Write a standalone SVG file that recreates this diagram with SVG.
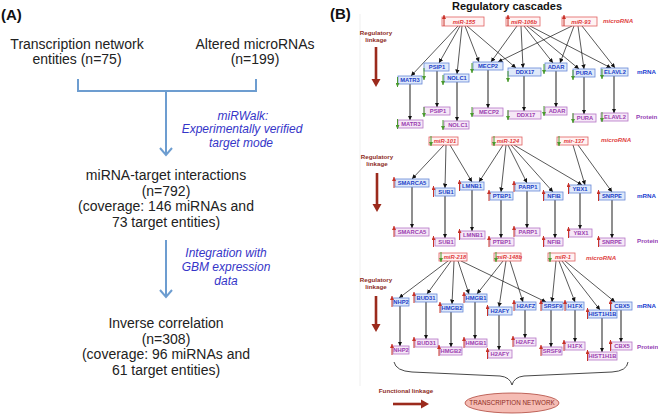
<svg xmlns="http://www.w3.org/2000/svg" width="658" height="414" viewBox="0 0 658 414">
<style>
text{font-family:"Liberation Sans",Arial,sans-serif}
.big{font-size:14px;fill:#222}
.hdr{font-size:15px;font-weight:bold;fill:#111}
.ttl{font-size:11px;font-weight:bold;fill:#111}
.it{font-size:12px;font-style:italic;fill:#3535c8}
.flow{stroke:#6d9dd0;stroke-width:2;fill:none}
.mir rect{fill:#fff3f3;stroke:#e06060;stroke-width:0.8}
.mir text{font-size:5.8px;font-weight:bold;font-style:italic;fill:#e03838;text-anchor:middle}
.rna rect{fill:#dfe9fa;stroke:#6688d8;stroke-width:0.8}
.rna text{font-size:5.8px;font-weight:bold;fill:#1c3fc8;text-anchor:middle}
.pro rect{fill:#f6e8f7;stroke:#b574c6;stroke-width:0.8}
.pro text{font-size:5.8px;font-weight:bold;fill:#9a3db0;text-anchor:middle}
.up{stroke:#c83228;stroke-width:1;marker-end:url(#hr)}
.dn{stroke:#4a9a2e;stroke-width:1;marker-end:url(#hg)}
.e{stroke:#111;stroke-width:0.7;marker-end:url(#ah);fill:none}
.v{stroke:#333;stroke-width:1.1;marker-end:url(#ah);fill:none}
.lab{font-size:6.2px;font-weight:bold}
.lmir{fill:#e04040;font-style:italic}
.lrna{fill:#2040d0}
.lpro{fill:#9440b4}
.lnk{font-size:6.2px;font-weight:bold;fill:#8e2c1e;text-anchor:middle}
.big-ar{stroke:#9b2a1c;stroke-width:2.6}
</style>
<defs>
<marker id="ah" viewBox="0 0 10 10" refX="10" refY="5" markerWidth="4.5" markerHeight="4.5" markerUnits="userSpaceOnUse" orient="auto"><path d="M0,0L10,5L0,10z" fill="#111"/></marker>
<marker id="hr" viewBox="0 0 10 10" refX="10" refY="5" markerWidth="4" markerHeight="4" markerUnits="userSpaceOnUse" orient="auto"><path d="M0,0L10,5L0,10z" fill="#c83228"/></marker>
<marker id="hg" viewBox="0 0 10 10" refX="10" refY="5" markerWidth="4" markerHeight="4" markerUnits="userSpaceOnUse" orient="auto"><path d="M0,0L10,5L0,10z" fill="#4a9a2e"/></marker>
</defs>

<!-- Panel A -->
<g id="panelA">
<text class="hdr" x="1" y="20">(A)</text>
<g id="tn"><text class="big" x="77" y="49" text-anchor="middle">Transcription network</text><text class="big" x="77" y="64" text-anchor="middle">entities (n=75)</text></g>
<g id="am"><text class="big" x="255" y="49" text-anchor="middle">Altered microRNAs</text><text class="big" x="255" y="64" text-anchor="middle">(n=199)</text></g>
<g id="mti"><text class="big" x="166" y="180" text-anchor="middle">miRNA-target interactions</text><text class="big" x="166" y="196" text-anchor="middle">(n=792)</text><text class="big" x="166" y="211" text-anchor="middle">(coverage: 146 miRNAs and</text><text class="big" x="166" y="227" text-anchor="middle">73 target entities)</text></g>
<g id="ic"><text class="big" x="166" y="328" text-anchor="middle">Inverse correlation</text><text class="big" x="166" y="344" text-anchor="middle">(n=308)</text><text class="big" x="166" y="359" text-anchor="middle">(coverage: 96 miRNAs and</text><text class="big" x="166" y="375" text-anchor="middle">61 target entities)</text></g>
<g id="flowA">
<path class="flow" d="M78,79V91H256V79M166,91V154"/>
<path class="flow" d="M160,148L166,155L172,148"/>
<path class="flow" d="M166,240V296"/>
<path class="flow" d="M160,290L166,297L172,290"/>
</g>
<text class="it" x="243" y="120" text-anchor="middle">miRWalk:</text>
<text class="it" x="242" y="133" text-anchor="middle">Experimentally verified</text>
<text class="it" x="241" y="147" text-anchor="middle">target mode</text>
<text class="it" x="226" y="257" text-anchor="middle">Integration with</text>
<text class="it" x="226" y="271" text-anchor="middle">GBM expression</text>
<text class="it" x="226" y="285" text-anchor="middle">data</text>
</g>

<!-- Panel B -->
<text class="hdr" x="330" y="19">(B)</text>
<text class="ttl" x="507" y="10" text-anchor="middle">Regulatory cascades</text>
<line x1="360" y1="14" x2="360" y2="386" stroke="#efefef" stroke-width="1"/>

<g id="legend">
<text class="lnk" x="376" y="35">Regulatory</text><text class="lnk" x="376" y="42">linkage</text>
<line class="big-ar" x1="376" y1="47" x2="376" y2="80"/><path d="M371.5,79H380.5L376,87z" fill="#9b2a1c"/>
<text class="lnk" x="377" y="159">Regulatory</text><text class="lnk" x="377" y="166">linkage</text>
<line class="big-ar" x1="377" y1="173" x2="377" y2="205"/><path d="M372.5,204H381.5L377,212z" fill="#9b2a1c"/>
<text class="lnk" x="376" y="282">Regulatory</text><text class="lnk" x="376" y="289">linkage</text>
<line class="big-ar" x1="376" y1="296" x2="376" y2="325"/><path d="M371.5,324H380.5L376,332z" fill="#9b2a1c"/>
<text class="lnk" x="406" y="393">Functional linkage</text>
<line class="big-ar" x1="393" y1="404" x2="422" y2="404"/><path d="M421,399.5V408.5L429,404z" fill="#9b2a1c"/>
<text class="lab lmir" x="603" y="23">microRNA</text><text class="lab lrna" x="637" y="74">mRNA</text><text class="lab lpro" x="636" y="119">Protein</text>
<text class="lab lmir" x="601" y="142">microRNA</text><text class="lab lrna" x="637" y="198">mRNA</text><text class="lab lpro" x="637" y="243">Protein</text>
<text class="lab lmir" x="586" y="260">microRNA</text><text class="lab lrna" x="637" y="308">mRNA</text><text class="lab lpro" x="637" y="349">Protein</text>
</g>

<g id="connectors">
<!-- cascade 1 -->
<line class="e" x1="458" y1="26" x2="411" y2="76"/>
<line class="e" x1="460" y1="26" x2="439" y2="63"/>
<line class="e" x1="462" y1="26" x2="457" y2="74"/>
<line class="e" x1="465" y1="26" x2="479" y2="62"/>
<line class="e" x1="467" y1="26" x2="516" y2="68"/>
<line class="e" x1="517" y1="26" x2="491" y2="62"/>
<line class="e" x1="521" y1="26" x2="523" y2="68"/>
<line class="e" x1="524" y1="26" x2="553" y2="63"/>
<line class="e" x1="527" y1="26" x2="579" y2="69"/>
<line class="e" x1="530" y1="26" x2="611" y2="68"/>
<line class="e" x1="572" y1="26" x2="498" y2="62"/>
<line class="e" x1="574" y1="26" x2="560" y2="63"/>
<line class="e" x1="578" y1="26" x2="584" y2="69"/>
<line class="e" x1="582" y1="26" x2="615" y2="68"/>
<line class="v" x1="410" y1="84" x2="410" y2="120"/>
<line class="v" x1="437" y1="71" x2="437" y2="107"/>
<line class="v" x1="457" y1="82" x2="457" y2="121"/>
<line class="v" x1="488" y1="70" x2="488" y2="108"/>
<line class="v" x1="524" y1="76" x2="524" y2="111"/>
<line class="v" x1="556" y1="71" x2="556" y2="107"/>
<line class="v" x1="584" y1="77" x2="584" y2="114"/>
<line class="v" x1="614" y1="76" x2="614" y2="113"/>
<!-- cascade 2 -->
<line class="e" x1="444" y1="145" x2="412" y2="179"/>
<line class="e" x1="446" y1="145" x2="445" y2="188"/>
<line class="e" x1="450" y1="145" x2="472" y2="182"/>
<line class="e" x1="503" y1="145" x2="479" y2="182"/>
<line class="e" x1="506" y1="145" x2="501" y2="192"/>
<line class="e" x1="508" y1="145" x2="527" y2="183"/>
<line class="e" x1="511" y1="145" x2="553" y2="192"/>
<line class="e" x1="514" y1="145" x2="582" y2="185"/>
<line class="e" x1="573" y1="145" x2="585" y2="185"/>
<line class="e" x1="578" y1="145" x2="612" y2="192"/>
<line class="v" x1="412" y1="187" x2="412" y2="228"/>
<line class="v" x1="445" y1="196" x2="445" y2="238"/>
<line class="v" x1="472" y1="190" x2="472" y2="231"/>
<line class="v" x1="501" y1="200" x2="501" y2="238"/>
<line class="v" x1="527" y1="191" x2="527" y2="228"/>
<line class="v" x1="555" y1="200" x2="555" y2="238"/>
<line class="v" x1="580" y1="193" x2="580" y2="229"/>
<line class="v" x1="612" y1="200" x2="612" y2="238"/>
<!-- cascade 3 -->
<line class="e" x1="448" y1="261" x2="399" y2="298"/>
<line class="e" x1="451" y1="261" x2="427" y2="294"/>
<line class="e" x1="454" y1="261" x2="452" y2="304"/>
<line class="e" x1="458" y1="261" x2="469" y2="294"/>
<line class="e" x1="461" y1="261" x2="546" y2="302"/>
<line class="e" x1="503" y1="261" x2="477" y2="294"/>
<line class="e" x1="506" y1="261" x2="499" y2="307"/>
<line class="e" x1="510" y1="261" x2="523" y2="302"/>
<line class="e" x1="556" y1="261" x2="552" y2="302"/>
<line class="e" x1="559" y1="261" x2="575" y2="302"/>
<line class="e" x1="562" y1="261" x2="600" y2="310"/>
<line class="e" x1="565" y1="261" x2="615" y2="302"/>
<line class="v" x1="400" y1="306" x2="400" y2="346"/>
<line class="v" x1="426" y1="302" x2="426" y2="339"/>
<line class="v" x1="451" y1="312" x2="451" y2="347"/>
<line class="v" x1="475" y1="302" x2="475" y2="339"/>
<line class="v" x1="499" y1="315" x2="499" y2="350"/>
<line class="v" x1="525" y1="310" x2="525" y2="338"/>
<line class="v" x1="551" y1="310" x2="551" y2="347"/>
<line class="v" x1="575" y1="310" x2="575" y2="342"/>
<line class="v" x1="602" y1="318" x2="602" y2="352"/>
<line class="v" x1="621" y1="310" x2="621" y2="342"/>
<!-- brace -->
<path d="M394,362Q396,371 412,372L500,376Q510,377 512,385Q514,377 524,376L612,372Q627,371 628,362" fill="none" stroke="#333" stroke-width="0.9"/>
</g>

<!-- cascade 1 nodes -->
<g id="m155" class="mir"><rect x="442" y="17" width="42" height="9"/><text x="464" y="24">miR-155</text><line class="up" x1="444" y1="26" x2="444" y2="15"/></g>
<g id="m106b" class="mir"><rect x="506" y="17" width="34" height="9"/><text x="524" y="24">miR-106b</text><line class="up" x1="508" y1="26" x2="508" y2="15"/></g>
<g id="m93" class="mir"><rect x="562" y="17" width="35" height="9"/><text x="581" y="24">miR-93</text><line class="up" x1="564" y1="26" x2="564" y2="15"/></g>

<g id="r_MATR3" class="rna"><rect x="398" y="76" width="24" height="8"/><text x="410" y="82.2">MATR3</text><line class="dn" x1="397.5" y1="77" x2="397.5" y2="87"/></g>
<g id="r_PSIP1" class="rna"><rect x="424" y="63" width="25" height="8"/><text x="437" y="69.2">PSIP1</text><line class="dn" x1="424" y1="68" x2="424" y2="80"/></g>
<g id="r_NOLC1" class="rna"><rect x="444" y="74" width="25" height="8"/><text x="457" y="80.2">NOLC1</text><line class="dn" x1="443" y1="75" x2="443" y2="85"/></g>
<g id="r_MECP2" class="rna"><rect x="473" y="62" width="30" height="8"/><text x="488" y="68.2">MECP2</text><line class="dn" x1="472" y1="63" x2="472" y2="73"/></g>
<g id="r_DDX17" class="rna"><rect x="508" y="68" width="33" height="8"/><text x="525" y="74.2">DDX17</text><line class="dn" x1="508" y1="71" x2="508" y2="82"/></g>
<g id="r_ADAR" class="rna"><rect x="545" y="63" width="22" height="8"/><text x="556" y="69.2">ADAR</text><line class="dn" x1="544" y1="64" x2="544" y2="74"/></g>
<g id="r_PURA" class="rna"><rect x="573" y="69" width="22" height="8"/><text x="584" y="75.2">PURA</text><line class="dn" x1="573" y1="70" x2="573" y2="80"/></g>
<g id="r_ELAVL2" class="rna"><rect x="601" y="68" width="27" height="8"/><text x="615" y="74.2">ELAVL2</text><line class="dn" x1="602" y1="69" x2="602" y2="79"/></g>

<g id="p_MATR3" class="pro"><rect x="398" y="120" width="25" height="8"/><text x="411" y="126.2">MATR3</text><line class="dn" x1="397.5" y1="119" x2="397.5" y2="129"/></g>
<g id="p_PSIP1" class="pro"><rect x="424" y="107" width="26" height="8"/><text x="438" y="113.2">PSIP1</text><line class="dn" x1="424" y1="107" x2="424" y2="117"/></g>
<g id="p_NOLC1" class="pro"><rect x="444" y="121" width="25" height="8"/><text x="458" y="127.2">NOLC1</text><line class="dn" x1="443" y1="120" x2="443" y2="130"/></g>
<g id="p_MECP2" class="pro"><rect x="473" y="108" width="30" height="8"/><text x="489" y="114.2">MECP2</text><line class="dn" x1="472" y1="107" x2="472" y2="117"/></g>
<g id="p_DDX17" class="pro"><rect x="508" y="111" width="33" height="8"/><text x="526" y="117.2">DDX17</text><line class="dn" x1="508" y1="110" x2="508" y2="120"/></g>
<g id="p_ADAR" class="pro"><rect x="545" y="107" width="22" height="8"/><text x="557" y="113.2">ADAR</text><line class="dn" x1="544" y1="106" x2="544" y2="116"/></g>
<g id="p_PURA" class="pro"><rect x="573" y="114" width="23" height="8"/><text x="585" y="120.2">PURA</text><line class="dn" x1="573" y1="113" x2="573" y2="123"/></g>
<g id="p_ELAVL2" class="pro"><rect x="601" y="113" width="27" height="8"/><text x="615" y="119.2">ELAVL2</text><line class="dn" x1="602" y1="112" x2="602" y2="122"/></g>

<!-- cascade 2 nodes -->
<g id="m101" class="mir"><rect x="429" y="137" width="29" height="8"/><text x="445" y="143.2">miR-101</text><line class="dn" x1="431" y1="136" x2="431" y2="146"/></g>
<g id="m124" class="mir"><rect x="492" y="137" width="30" height="8"/><text x="508" y="143.2">miR-124</text><line class="dn" x1="494" y1="136" x2="494" y2="146"/></g>
<g id="m137" class="mir"><rect x="557" y="137" width="31" height="8"/><text x="574" y="143.2">mir-137</text><line class="dn" x1="559" y1="136" x2="559" y2="146"/></g>

<g id="r_SMARCA5" class="rna"><rect x="395" y="179" width="34" height="8"/><text x="412" y="185.2">SMARCA5</text><line class="up" x1="394" y1="188" x2="394" y2="177"/></g>
<g id="r_SUB1" class="rna"><rect x="435" y="188" width="20" height="8"/><text x="446" y="194.2">SUB1</text><line class="up" x1="433.5" y1="197" x2="433.5" y2="186"/></g>
<g id="r_LMNB1" class="rna"><rect x="460" y="182" width="24" height="8"/><text x="472" y="188.2">LMNB1</text><line class="up" x1="459.5" y1="191" x2="459.5" y2="180"/></g>
<g id="r_PTBP1" class="rna"><rect x="490" y="192" width="23" height="8"/><text x="502" y="198.2">PTBP1</text><line class="up" x1="489" y1="201" x2="489" y2="190"/></g>
<g id="r_PARP1" class="rna"><rect x="515" y="183" width="25" height="8"/><text x="528" y="189.2">PARP1</text><line class="up" x1="514" y1="192" x2="514" y2="181"/></g>
<g id="r_NFIB" class="rna"><rect x="544" y="192" width="19" height="8"/><text x="554" y="198.2">NFIB</text><line class="up" x1="543.5" y1="201" x2="543.5" y2="190"/></g>
<g id="r_YBX1" class="rna"><rect x="569" y="185" width="22" height="8"/><text x="580" y="191.2">YBX1</text><line class="up" x1="568.5" y1="194" x2="568.5" y2="183"/></g>
<g id="r_SNRPE" class="rna"><rect x="599" y="192" width="26" height="8"/><text x="612" y="198.2">SNRPE</text><line class="up" x1="598.5" y1="201" x2="598.5" y2="190"/></g>

<g id="p_SMARCA5" class="pro"><rect x="395" y="228" width="34" height="8"/><text x="412" y="234.2">SMARCA5</text><line class="up" x1="394" y1="237" x2="394" y2="226"/></g>
<g id="p_SUB1" class="pro"><rect x="435" y="238" width="20" height="8"/><text x="446" y="244.2">SUB1</text><line class="up" x1="433.5" y1="247" x2="433.5" y2="236"/></g>
<g id="p_LMNB1" class="pro"><rect x="460" y="231" width="25" height="8"/><text x="473" y="237.2">LMNB1</text><line class="up" x1="459.5" y1="240" x2="459.5" y2="229"/></g>
<g id="p_PTBP1" class="pro"><rect x="490" y="238" width="24" height="8"/><text x="502" y="244.2">PTBP1</text><line class="up" x1="489" y1="247" x2="489" y2="236"/></g>
<g id="p_PARP1" class="pro"><rect x="515" y="228" width="25" height="8"/><text x="528" y="234.2">PARP1</text><line class="up" x1="514" y1="237" x2="514" y2="226"/></g>
<g id="p_NFIB" class="pro"><rect x="544" y="238" width="19" height="8"/><text x="554" y="244.2">NFIB</text><line class="up" x1="543.5" y1="247" x2="543.5" y2="236"/></g>
<g id="p_YBX1" class="pro"><rect x="569" y="229" width="23" height="8"/><text x="581" y="235.2">YBX1</text><line class="up" x1="568.5" y1="238" x2="568.5" y2="227"/></g>
<g id="p_SNRPE" class="pro"><rect x="599" y="238" width="26" height="8"/><text x="612" y="244.2">SNRPE</text><line class="up" x1="598.5" y1="247" x2="598.5" y2="236"/></g>

<!-- cascade 3 nodes -->
<g id="m218" class="mir"><rect x="439" y="253" width="28" height="8"/><text x="455" y="259.2">miR-218</text><line class="dn" x1="441" y1="252" x2="441" y2="262"/></g>
<g id="m148b" class="mir"><rect x="494" y="253" width="27" height="8"/><text x="509" y="259.2">miR-148b</text><line class="dn" x1="496" y1="252" x2="496" y2="262"/></g>
<g id="m1" class="mir"><rect x="548" y="253" width="27" height="8"/><text x="563" y="259.2">miR-1</text><line class="dn" x1="550" y1="252" x2="550" y2="262"/></g>

<g id="r_NHP2" class="rna"><rect x="393" y="298" width="16" height="8"/><text x="401" y="304.2">NHP2</text><line class="up" x1="392" y1="307" x2="392" y2="296"/></g>
<g id="r_BUD31" class="rna"><rect x="415" y="294" width="22" height="8"/><text x="426" y="300.2">BUD31</text><line class="up" x1="414" y1="303" x2="414" y2="292"/></g>
<g id="r_HMGB2" class="rna"><rect x="441" y="304" width="22" height="8"/><text x="452" y="310.2">HMGB2</text><line class="up" x1="440" y1="313" x2="440" y2="302"/></g>
<g id="r_HMGB1" class="rna"><rect x="465" y="294" width="22" height="8"/><text x="476" y="300.2">HMGB1</text><line class="up" x1="464" y1="303" x2="464" y2="292"/></g>
<g id="r_H2AFY" class="rna"><rect x="488" y="307" width="24" height="8"/><text x="500" y="313.2">H2AFY</text><line class="up" x1="487.5" y1="316" x2="487.5" y2="305"/></g>
<g id="r_H2AFZ" class="rna"><rect x="515" y="302" width="21" height="8"/><text x="526" y="308.2">H2AFZ</text><line class="up" x1="514" y1="311" x2="514" y2="300"/></g>
<g id="r_SRSF9" class="rna"><rect x="542" y="302" width="21" height="8"/><text x="553" y="308.2">SRSF9</text><line class="up" x1="541" y1="311" x2="541" y2="300"/></g>
<g id="r_H1FX" class="rna"><rect x="566" y="302" width="18" height="8"/><text x="575" y="308.2">H1FX</text><line class="up" x1="565" y1="311" x2="565" y2="300"/></g>
<g id="r_HIST1H1B" class="rna"><rect x="588" y="310" width="29" height="8"/><text x="602.5" y="316.2">HIST1H1B</text><line class="up" x1="587.5" y1="319" x2="587.5" y2="308"/></g>
<g id="r_CBX5" class="rna"><rect x="611" y="302" width="21" height="8"/><text x="622" y="308.2">CBX5</text><line class="up" x1="610.5" y1="311" x2="610.5" y2="300"/></g>

<g id="p_NHP2" class="pro"><rect x="393" y="346" width="16" height="8"/><text x="401" y="352.2">NHP2</text><line class="up" x1="392" y1="355" x2="392" y2="344"/></g>
<g id="p_BUD31" class="pro"><rect x="415" y="339" width="23" height="8"/><text x="426.5" y="345.2">BUD31</text><line class="up" x1="414" y1="348" x2="414" y2="337"/></g>
<g id="p_HMGB2" class="pro"><rect x="440" y="347" width="22" height="8"/><text x="451" y="353.2">HMGB2</text><line class="up" x1="439" y1="356" x2="439" y2="345"/></g>
<g id="p_HMGB1" class="pro"><rect x="465" y="339" width="22" height="8"/><text x="476" y="345.2">HMGB1</text><line class="up" x1="464" y1="348" x2="464" y2="337"/></g>
<g id="p_H2AFY" class="pro"><rect x="488" y="350" width="24" height="8"/><text x="500" y="356.2">H2AFY</text><line class="up" x1="487.5" y1="359" x2="487.5" y2="348"/></g>
<g id="p_H2AFZ" class="pro"><rect x="514" y="338" width="22" height="8"/><text x="525" y="344.2">H2AFZ</text><line class="up" x1="513" y1="347" x2="513" y2="336"/></g>
<g id="p_SRSF9" class="pro"><rect x="542" y="347" width="20" height="8"/><text x="552" y="353.2">SRSF9</text><line class="up" x1="541" y1="356" x2="541" y2="345"/></g>
<g id="p_H1FX" class="pro"><rect x="565" y="342" width="20" height="8"/><text x="575" y="348.2">H1FX</text><line class="up" x1="564" y1="351" x2="564" y2="340"/></g>
<g id="p_HIST1H1B" class="pro"><rect x="588" y="352" width="29" height="8"/><text x="602.5" y="358.2">HIST1H1B</text><line class="up" x1="587.5" y1="361" x2="587.5" y2="350"/></g>
<g id="p_CBX5" class="pro"><rect x="611" y="342" width="21" height="8"/><text x="622" y="348.2">CBX5</text><line class="up" x1="610.5" y1="351" x2="610.5" y2="340"/></g>

<g id="tnet"><ellipse cx="512" cy="403" rx="47" ry="10" fill="#f5bcb4" stroke="#b0453a" stroke-width="0.8"/><text x="512" y="405.3" text-anchor="middle" font-size="6.3" fill="#8e2c1e">TRANSCRIPTION NETWORK</text></g>
</svg>
